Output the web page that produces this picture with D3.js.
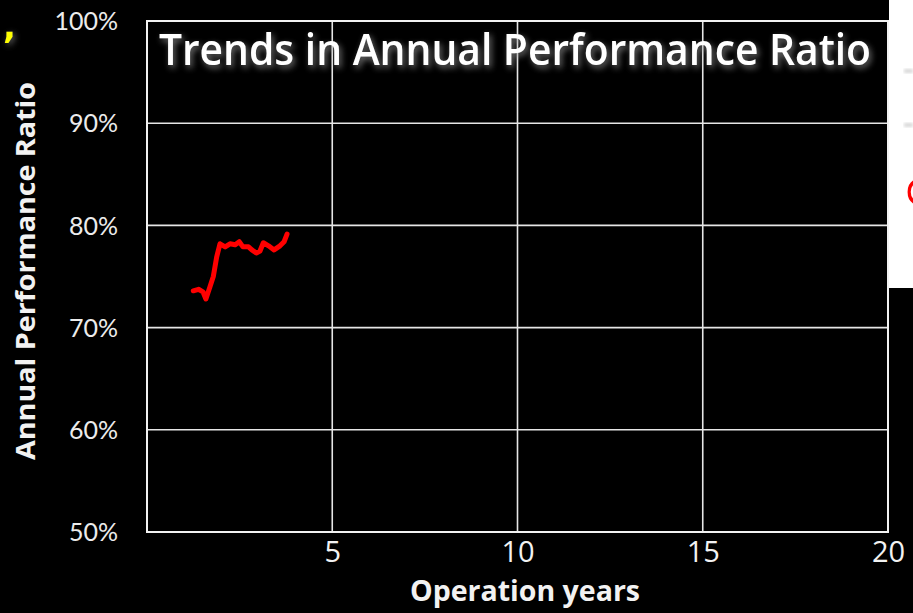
<!DOCTYPE html>
<html>
<head>
<meta charset="utf-8">
<script src="https://cdn.jsdelivr.net/npm/d3@7/dist/d3.min.js"></script>
<style>
  html, body { margin: 0; padding: 0; background: #000; overflow: hidden; }
  svg { display: block; }
</style>
</head>
<body>
<svg id="chart" width="913" height="613"></svg>
<script>
// Operation years (x) and annual performance ratio in % (y)
const years = [1.25, 1.39, 1.51, 1.59, 1.70, 1.79, 1.88, 1.97, 2.11, 2.24, 2.38, 2.49,
               2.59, 2.74, 2.83, 2.95, 3.05, 3.14, 3.28, 3.43, 3.59, 3.70, 3.78];
const ratio = [73.6, 73.75, 73.5, 72.8, 74.0, 75.0, 76.9, 78.2, 77.9, 78.2, 78.1, 78.4,
               77.9, 77.9, 77.6, 77.3, 77.5, 78.3, 78.0, 77.6, 78.0, 78.4, 79.15];
const xTicks = [5, 10, 15, 20];
const yTicks = [50, 60, 70, 80, 90, 100];
const titleText = "Trends in Annual Performance Ratio";
const xTitle = "Operation years";
const yTitle = "Annual Performance Ratio";

const svg = d3.select("#chart");
const W = 913, H = 613;
const plot = { left: 147, right: 888, top: 21, bottom: 532 };

svg.append("rect").attr("width", W).attr("height", H).attr("fill", "#000");

const defs = svg.append("defs");
const glow = defs.append("filter").attr("id", "titleGlow")
  .attr("x", "-5%").attr("y", "-30%").attr("width", "110%").attr("height", "170%");
glow.append("feDropShadow").attr("dx", 2).attr("dy", 3).attr("stdDeviation", 3)
  .attr("flood-color", "#9a9a9a").attr("flood-opacity", 0.75);
const soft = defs.append("filter").attr("id", "soft");
soft.append("feGaussianBlur").attr("stdDeviation", 1.5);
const yglow = defs.append("filter").attr("id", "yglow")
  .attr("x", "-50%").attr("y", "-50%").attr("width", "200%").attr("height", "200%");
yglow.append("feDropShadow").attr("dx", 2).attr("dy", 2).attr("stdDeviation", 3)
  .attr("flood-color", "#888").attr("flood-opacity", 0.7);

const x = d3.scaleLinear().domain([0, 20]).range([plot.left, plot.right]);
const y = d3.scaleLinear().domain([50, 100]).range([plot.bottom, plot.top]);

// gridlines
const grid = svg.append("g");
grid.selectAll("line.h").data(yTicks.filter(v => v > 50 && v < 100)).join("line")
  .attr("x1", plot.left).attr("x2", plot.right)
  .attr("y1", d => y(d)).attr("y2", d => y(d))
  .attr("stroke", "#e6e6e6").attr("stroke-width", 1.6);
grid.selectAll("line.v").data(xTicks.filter(v => v < 20)).join("line")
  .attr("x1", d => x(d)).attr("x2", d => x(d))
  .attr("y1", plot.top).attr("y2", plot.bottom)
  .attr("stroke", "#e6e6e6").attr("stroke-width", 1.6);

// plot frame
svg.append("rect")
  .attr("x", plot.left).attr("y", plot.top)
  .attr("width", plot.right - plot.left).attr("height", plot.bottom - plot.top)
  .attr("fill", "none").attr("stroke", "#f2f2f2").attr("stroke-width", 2);

// axes labels via d3 axes
const yAxis = d3.axisLeft(y).tickValues(yTicks).tickFormat(d => d + "%").tickSize(0).tickPadding(0);
const ya = svg.append("g").attr("transform", `translate(${plot.left - 29},0)`).call(yAxis);
ya.select(".domain").remove();
ya.selectAll("text").attr("fill", "#ececec").attr("font-family", "Lato, 'Open Sans', sans-serif")
  .attr("font-size", 25).attr("dy", "0.35em");

const xAxis = d3.axisBottom(x).tickValues(xTicks).tickSize(0).tickPadding(0);
const xa = svg.append("g").attr("transform", `translate(0,${plot.bottom + 9})`).call(xAxis);
xa.select(".domain").remove();
xa.selectAll("text").attr("fill", "#f2f2f2").attr("font-family", "'Open Sans', sans-serif")
  .attr("font-size", 29).attr("dy", "0.71em");

// axis titles
svg.append("text").attr("x", 525).attr("y", 601).attr("text-anchor", "middle")
  .attr("fill", "#f2f2f2").attr("font-family", "'Open Sans', sans-serif")
  .attr("font-weight", 700).attr("font-size", 28)
  .attr("textLength", 230).attr("lengthAdjust", "spacingAndGlyphs").text(xTitle);
svg.append("text").attr("transform", "translate(35,271) rotate(-90)").attr("text-anchor", "middle")
  .attr("fill", "#f2f2f2").attr("font-family", "'Open Sans', sans-serif")
  .attr("font-weight", 700).attr("font-size", 27)
  .attr("textLength", 378).attr("lengthAdjust", "spacingAndGlyphs").text(yTitle);

// title
svg.append("text").attr("x", 159).attr("y", 65)
  .attr("fill", "#ffffff").attr("font-family", "'Open Sans', sans-serif")
  .attr("font-weight", 600).attr("font-size", 43)
  .attr("textLength", 712).attr("lengthAdjust", "spacingAndGlyphs")
  .attr("filter", "url(#titleGlow)").text(titleText);

// performance ratio trend
const line = d3.line().x((d, i) => x(years[i])).y(d => y(d)).curve(d3.curveLinear);
svg.append("path").datum(ratio).attr("d", line)
  .attr("fill", "none").attr("stroke", "#ff0000").attr("stroke-width", 5)
  .attr("stroke-linejoin", "round").attr("stroke-linecap", "round");

// neighbouring slide panel on the right edge
svg.append("rect").attr("x", 889).attr("y", 0).attr("width", 24).attr("height", 288).attr("fill", "#ffffff");
svg.append("rect").attr("x", 904).attr("y", 69).attr("width", 9).attr("height", 4).attr("fill", "#d8d8d8").attr("filter", "url(#soft)");
svg.append("rect").attr("x", 904).attr("y", 123).attr("width", 9).attr("height", 4).attr("fill", "#d8d8d8").attr("filter", "url(#soft)");
// red stroke partly visible at the panel's edge
svg.append("path")
  .attr("d", d3.arc()({ innerRadius: 9, outerRadius: 13, startAngle: -2.7, endAngle: -0.35 }))
  .attr("transform", "translate(918,192) scale(0.8,1)")
  .attr("fill", "#ff0000");

// yellow mark at the top-left edge
svg.append("text").attr("x", 3).attr("y", 38).attr("fill", "#ffff00")
  .attr("font-family", "'DejaVu Sans', sans-serif").attr("font-weight", 700)
  .attr("font-size", 34).attr("filter", "url(#yglow)").text(",");
</script>
</body>
</html>
